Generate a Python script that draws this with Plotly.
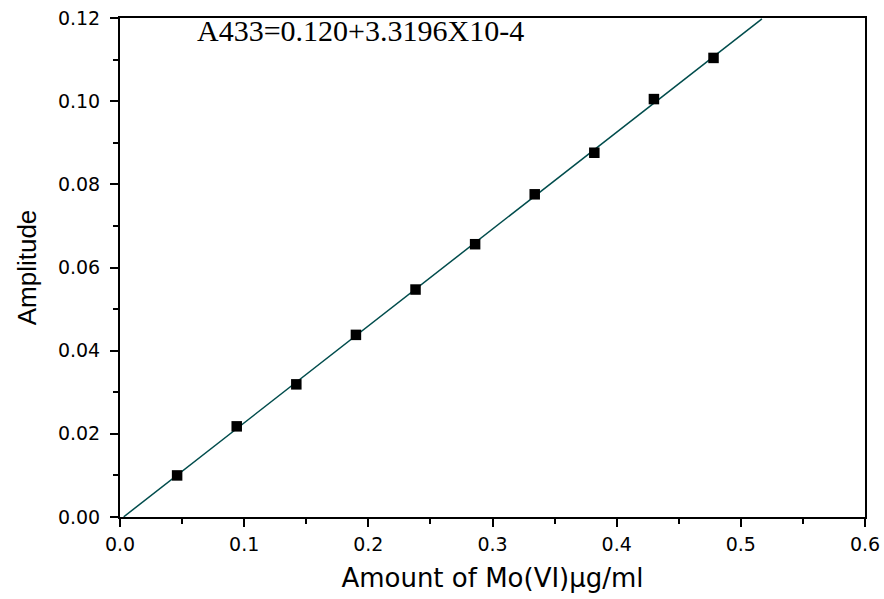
import numpy as np
import plotly.graph_objects as go

# Calibration data: Mo(VI) amount vs. measured amplitude
amount_ug_ml = [0.046, 0.094, 0.142, 0.190, 0.238, 0.286, 0.334, 0.382, 0.430, 0.478]
amplitude = [0.0100, 0.0218, 0.0319, 0.0438, 0.0547, 0.0656, 0.0776, 0.0876, 0.1005, 0.1104]

# Extent over which the fitted calibration line is drawn
fit_range = [0.003, 0.517]

equation_label = "A433=0.120+3.3196X10-4"
x_title = "Amount of Mo(VI)\u00b5g/ml"
y_title = "Amplitude"

slope, intercept = np.polyfit(amount_ug_ml, amplitude, 1)
fit_x = np.array(fit_range)
fit_y = slope * fit_x + intercept

fig = go.Figure()

fig.add_trace(go.Scatter(
    x=fit_x, y=fit_y, mode="lines",
    line=dict(color="#004c4c", width=1.5),
    showlegend=False, hoverinfo="skip",
))

fig.add_trace(go.Scatter(
    x=amount_ug_ml, y=amplitude, mode="markers",
    marker=dict(symbol="square", size=10.5, color="black", line=dict(width=0)),
    showlegend=False,
))

axis_common = dict(
    showline=True, linecolor="black", linewidth=2, mirror=True,
    showgrid=False, zeroline=False, automargin=False,
    ticks="outside", ticklen=8, tickwidth=2, tickcolor="black",
    tickfont=dict(family="DejaVu Sans", size=19, color="black"),
)

fig.update_xaxes(
    range=[0, 0.6], dtick=0.1, tick0=0, tickformat=".1f",
    ticklabelstandoff=1,
    minor=dict(dtick=0.05, ticks="outside", ticklen=5, tickwidth=2, tickcolor="black"),
    title=dict(text=x_title, font=dict(family="DejaVu Sans", size=26, color="black"), standoff=15),
    **axis_common,
)
fig.update_yaxes(
    range=[0, 0.12], dtick=0.02, tick0=0, tickformat=".2f",
    ticklabelstandoff=6,
    minor=dict(dtick=0.01, ticks="outside", ticklen=5, tickwidth=2, tickcolor="black"),
    title=dict(text=y_title, font=dict(family="Liberation Sans", size=26, color="black"), standoff=14),
    **axis_common,
)

fig.add_annotation(
    text=equation_label, xref="paper", yref="paper",
    x=0.1, y=0.975, xanchor="left", yanchor="middle", showarrow=False,
    font=dict(family="Liberation Serif", size=30, color="black"),
)

fig.update_layout(
    width=884, height=599,
    margin=dict(l=120, r=19, t=18, b=82),
    paper_bgcolor="white", plot_bgcolor="white",
)

fig.write_html("out.html")
